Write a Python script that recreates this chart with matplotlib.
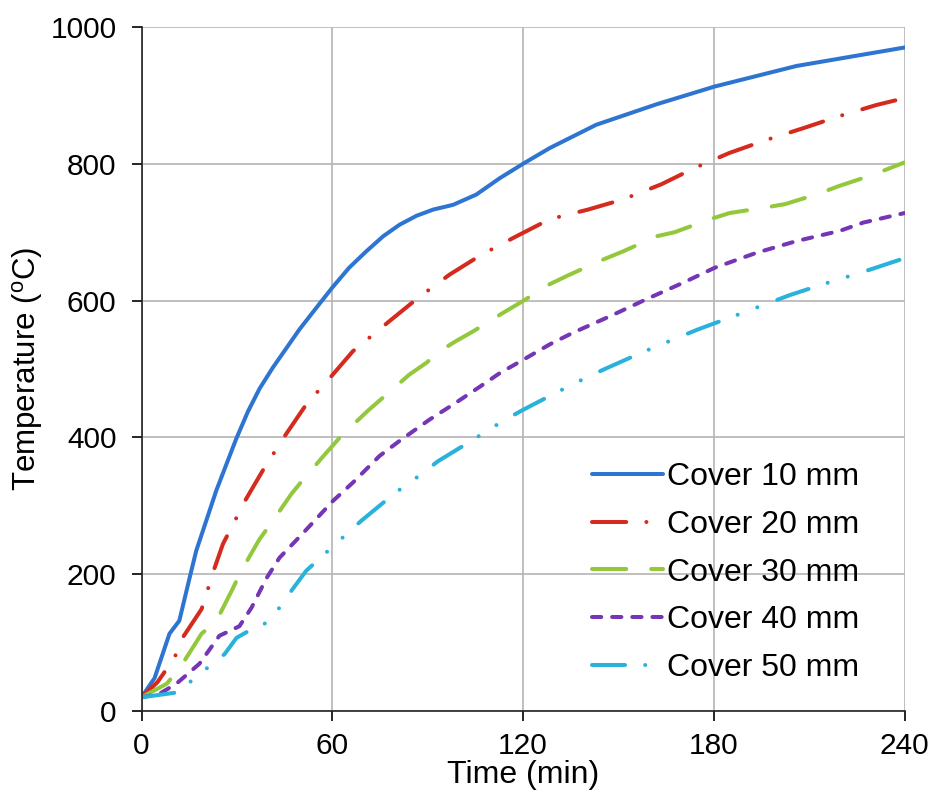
import matplotlib.pyplot as plt
import numpy as np

plt.rcParams['font.family'] = ['Liberation Sans', 'DejaVu Sans']
plt.rcParams['mathtext.fontset'] = 'custom'
plt.rcParams['mathtext.rm'] = 'Liberation Sans'

# Data ##########################################################################
t10 = [0, 4.1, 8.8, 11.9, 15.1, 17.2, 23.5, 29.8, 33.5, 37.1, 41.3, 45.5, 49.7, 53.9, 60, 65.3,
       70.7, 76, 81.2, 86.5, 91.7, 98, 105.3, 112.7, 120, 128.4, 143, 162, 180.3, 206, 240]
T10 = [20, 48, 113, 132, 194, 234, 322, 398, 438, 471, 502, 530, 558, 583, 619, 648,
       672, 694, 711, 724, 733, 740, 755, 779, 800, 823, 857, 887, 913, 943, 970]

t20 = [0, 5, 10.4, 12.9, 18.9, 22.9, 25.6, 32.9, 38.7, 45.5, 51.8, 60.2, 66.5, 78, 87,
       96.9, 106.9, 117.9, 128.4, 140.4, 151.5, 163.5, 174, 185, 196.6, 208.1, 219.7, 231.2, 240]
T20 = [20, 42, 78, 107, 149, 208, 244, 310, 356, 405, 448, 492, 526, 570, 604,
       638, 667, 694, 719, 733, 748, 770, 794, 816, 835, 852, 870, 886, 896]

t30 = [0, 8, 12.9, 18.9, 23.6, 28.6, 31.4, 37.1, 41.3, 47.1, 51.3, 58.6, 62.8, 71.2, 75.9,
       84.3, 89.6, 93.8, 99, 104.3, 113.7, 119.5, 128.4, 134.7, 145.2, 151.5, 162, 167.7,
       178.8, 185, 196, 202.4, 212.8, 219.1, 230.1, 240]
T30 = [20, 40, 69, 113, 132, 178, 205, 251, 278, 317, 341, 380, 402, 439, 458,
       492, 509, 526, 541, 555, 582, 598, 624, 638, 660, 672, 694, 700,
       719, 728, 736, 741, 756, 767, 784, 802]

t40 = [0, 5.6, 11, 18.2, 24.5, 27.7, 30.8, 34.6, 39.3, 43.4, 50.6, 60.2, 66.5, 74.9, 81.2,
       90.6, 98, 106.4, 112.7, 119.5, 128.4, 135.7, 147.3, 158.8, 170.3, 180.3, 193.5, 206,
       219.7, 227, 240]
T40 = [20, 25, 40, 69, 110, 117, 124, 151, 194, 224, 259, 307, 334, 373, 395,
       426, 448, 474, 494, 512, 536, 553, 577, 602, 626, 648, 670, 687,
       702, 714, 728]

t50 = [0, 11, 15.7, 20.7, 26.1, 29.9, 33.3, 39.3, 43.4, 47.5, 51.8, 59.1, 69.1, 78, 82.7,
       88, 93.2, 102.7, 108.5, 113.7, 119.5, 129.4, 141, 146.7, 157.3, 169.3, 175.1, 185.6,
       197.6, 203.9, 214.4, 227, 240]
T50 = [20, 27, 44, 63, 83, 107, 116, 129, 151, 178, 205, 236, 278, 312, 329,
       346, 365, 392, 409, 424, 439, 463, 490, 502, 524, 547, 558, 576,
       597, 608, 624, 642, 662]

labels = ['Cover 10 mm', 'Cover 20 mm', 'Cover 30 mm', 'Cover 40 mm', 'Cover 50 mm']

# Plot ##########################################################################
fig = plt.figure(figsize=(9.38, 7.99), dpi=100)
ax = fig.add_axes([141.5 / 938, 88 / 799, 763 / 938, 684 / 799])

lw = 2.9
ax.plot(t10, T10, color='#2e75d2', lw=lw, label=labels[0], solid_capstyle='round')
ax.plot(t20, T20, color='#d52b1e', lw=lw, label=labels[1],
        dashes=(8.5, 5, 0.01, 5.2), dash_capstyle='round')
ax.plot(t30, T30, color='#94c83c', lw=lw, label=labels[2],
        dashes=(8.5, 6.2), dash_capstyle='round')
ax.plot(t40, T40, color='#7436b4', lw=lw, label=labels[3],
        dashes=(2.3, 2.7), dash_capstyle='round')
ax.plot(t50, T50, color='#28b2dc', lw=lw, label=labels[4],
        dashes=(8.2, 5, 0.01, 5.2, 0.01, 5.3), dash_capstyle='round')

ax.set_xlim(0, 240)
ax.set_ylim(0, 1000)
ax.set_xticks([0, 60, 120, 180, 240])
ax.set_yticks([0, 200, 400, 600, 800, 1000])
ax.grid(True, color='#b4b4b4', lw=1.2)
ax.set_axisbelow(True)
for s in ['top', 'right']:
    ax.spines[s].set_visible(False)
for s in ['left', 'bottom']:
    ax.spines[s].set_color('#222222')
    ax.spines[s].set_linewidth(1.2)
ax.tick_params(axis='both', direction='out', length=7, width=1.2, labelsize=21.5)
ax.tick_params(axis='x', pad=8)
ax.tick_params(axis='y', pad=11)

ax.set_xlabel('Time (min)', fontsize=23, labelpad=0)
ax.set_ylabel(r'Temperature ($\rm ^{o}$C)', fontsize=22.5, labelpad=4)

ax.legend(loc='lower right', bbox_to_anchor=(0.961, 0.018), frameon=False, fontsize=23,
          handlelength=2.2, handletextpad=0.12, labelspacing=0.55, borderpad=0)

fig.savefig('out.png', dpi=100)
